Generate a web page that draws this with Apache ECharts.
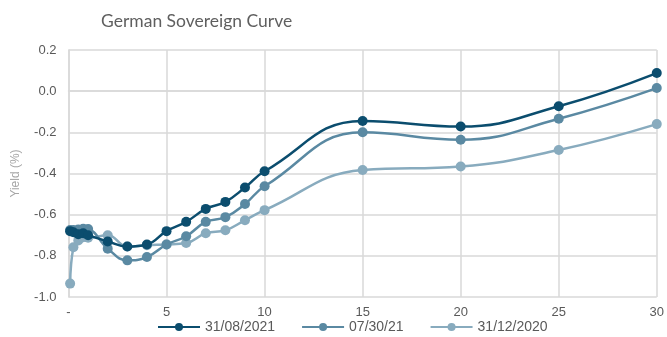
<!DOCTYPE html>
<html>
<head>
<meta charset="utf-8">
<script src="https://cdn.jsdelivr.net/npm/echarts@6/dist/echarts.min.js"></script>
<style>
html, body { margin: 0; padding: 0; background: #ffffff; }
#chart { width: 667px; height: 337px; }
</style>
</head>
<body>
<div id="chart"></div>
<script>
// Maturities in years
const maturities = [0.083, 0.25, 0.5, 0.75, 1, 2, 3, 4, 5, 6, 7, 8, 9, 10, 15, 20, 25, 30];

// Yields (%) per curve date
const curveAug2021 = [-0.68, -0.685, -0.695, -0.69, -0.70, -0.73, -0.755, -0.745, -0.68, -0.635, -0.572, -0.538, -0.468, -0.389, -0.145, -0.172, -0.073, 0.088];
const curveJul2021 = [-0.675, -0.675, -0.672, -0.668, -0.67, -0.765, -0.822, -0.806, -0.745, -0.705, -0.635, -0.612, -0.548, -0.462, -0.20, -0.236, -0.134, 0.015];
const curveDec2020 = [-0.935, -0.758, -0.725, -0.71, -0.712, -0.70, -0.755, -0.748, -0.745, -0.738, -0.69, -0.676, -0.627, -0.578, -0.383, -0.366, -0.286, -0.16];

const seriesNames = ['31/08/2021', '07/30/21', '31/12/2020'];
const seriesColors = ['#0b4d6e', '#5a89a2', '#88abbe'];
const seriesValues = [curveAug2021, curveJul2021, curveDec2020];

const chart = echarts.init(document.getElementById('chart'), null, { renderer: 'canvas' });

const series = seriesValues.map((vals, i) => ({
  name: seriesNames[i],
  type: 'line',
  smooth: 0.45,
  symbol: 'circle',
  symbolSize: 10,
  clip: false,
  z: 10 - i,
  data: maturities.map((m, j) => [m, vals[j]]),
  itemStyle: { color: seriesColors[i] },
  lineStyle: { color: seriesColors[i], width: 2.5 }
}));

chart.setOption({
  animation: false,
  backgroundColor: '#ffffff',
  title: {
    text: 'German Sovereign Curve',
    left: 96,
    top: 7,
    textStyle: { fontFamily: 'Lato', fontWeight: 'normal', fontSize: 17.5, color: '#5f5f5f' }
  },
  legend: {
    bottom: -2,
    left: 152,
    itemWidth: 42,
    itemHeight: 10,
    itemGap: 26,
    textStyle: { fontFamily: 'Liberation Sans', fontSize: 14, color: '#595959' },
    data: seriesNames
  },
  grid: { left: 68.5, right: 10, top: 50, bottom: 40, containLabel: false },
  xAxis: {
    type: 'value',
    min: 0,
    max: 30,
    interval: 5,
    axisLine: { show: true, lineStyle: { color: '#d9d9d9', width: 1.5 } },
    axisTick: { show: false },
    splitLine: { show: true, lineStyle: { color: '#d9d9d9', width: 1.5 } },
    axisLabel: {
      color: '#595959',
      fontFamily: 'Liberation Sans',
      fontSize: 13,
      margin: 9,
      formatter: v => (v === 0 ? '-' : String(v))
    }
  },
  yAxis: {
    type: 'value',
    min: -1,
    max: 0.2,
    interval: 0.2,
    name: 'Yield (%)',
    nameLocation: 'middle',
    nameGap: 47,
    nameTextStyle: { color: '#a6a6a6', fontFamily: 'Liberation Sans', fontSize: 12 },
    axisLine: { show: true, lineStyle: { color: '#d9d9d9', width: 1.5 } },
    axisTick: { show: false },
    splitLine: { show: true, lineStyle: { color: '#d9d9d9', width: 1.5 } },
    axisLabel: {
      color: '#595959',
      fontFamily: 'Liberation Sans',
      fontSize: 13,
      margin: 12,
      formatter: v => v.toFixed(1)
    }
  },
  series: series
});
</script>
</body>
</html>
